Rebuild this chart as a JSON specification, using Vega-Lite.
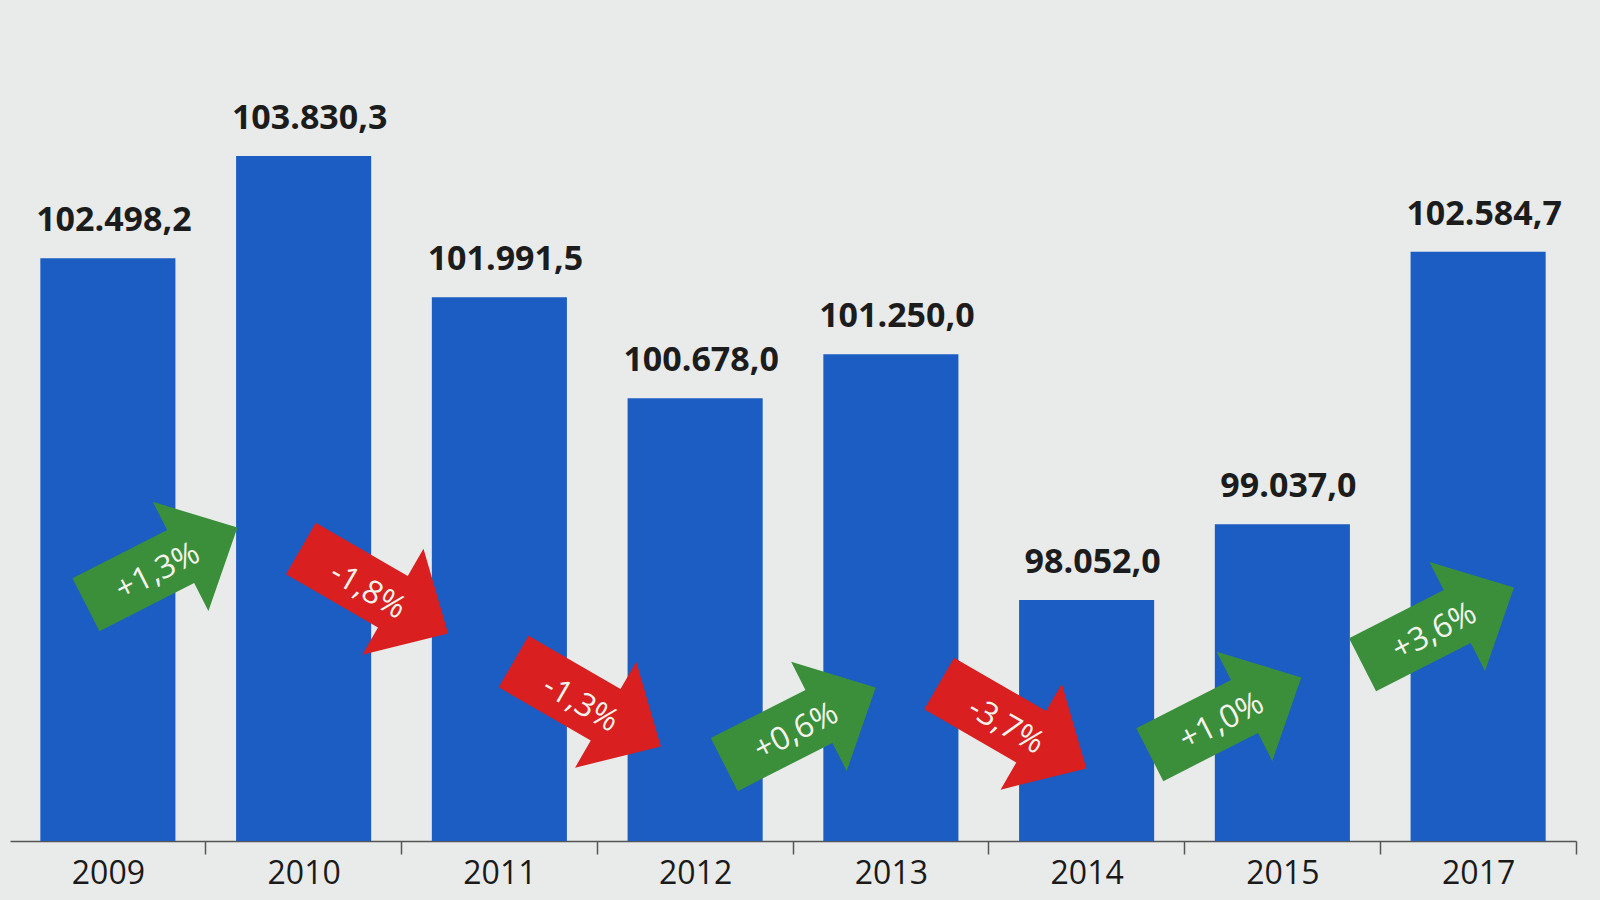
{
  "$schema": "https://vega.github.io/schema/vega-lite/v6.json",
  "width": 1600,
  "height": 841,
  "autosize": "none",
  "padding": {"top": 0, "left": 0, "right": 0, "bottom": 59},
  "background": "#e9ebea",
  "config": {"view": {"stroke": null}},
  "layer": [
    {
      "data": {"values": [
        {"year": "2009", "value": 102498.2, "label": "102.498,2"},
        {"year": "2010", "value": 103830.3, "label": "103.830,3"},
        {"year": "2011", "value": 101991.5, "label": "101.991,5"},
        {"year": "2012", "value": 100678.0, "label": "100.678,0"},
        {"year": "2013", "value": 101250.0, "label": "101.250,0"},
        {"year": "2014", "value": 98052.0, "label": "98.052,0"},
        {"year": "2015", "value": 99037.0, "label": "99.037,0"},
        {"year": "2017", "value": 102584.7, "label": "102.584,7"}
      ]},
      "encoding": {
        "x": {
          "field": "year", "type": "ordinal", "sort": null,
          "scale": {"type": "band", "range": [10, 1576], "paddingInner": 0.31, "paddingOuter": 0.155},
          "axis": {
            "title": null, "bandPosition": 1, "tickExtra": false, "tickOffset": 30, "labelOffset": -30,
            "domainColor": "#555555", "domainWidth": 1.5,
            "tickColor": "#555555", "tickWidth": 1.5, "tickSize": 13, "labelAngle": 0,
            "labelFont": "Open Sans", "labelFontSize": 32, "labelColor": "#1a1a1a", "labelPadding": 4
          }
        },
        "y": {
          "field": "value", "type": "quantitative",
          "scale": {"domain": [94916, 105860], "nice": false, "zero": false},
          "axis": null
        }
      },
      "layer": [
        {"mark": {"type": "bar", "color": "#1b5dc2", "clip": true}},
        {"mark": {"type": "text", "font": "Open Sans", "fontWeight": "bold", "fontSize": 34, "color": "#1c1c1c", "baseline": "alphabetic", "dy": -27, "dx": 6},
         "encoding": {"text": {"field": "label"}}}
      ]
    },
    {
      "data": {"values": [
        {"pair": "2009-2010", "change": "+1,3%", "dir": "up", "at": 98494},
        {"pair": "2010-2011", "change": "-1,8%", "dir": "down", "at": 98169},
        {"pair": "2011-2012", "change": "-1,3%", "dir": "down", "at": 96698},
        {"pair": "2012-2013", "change": "+0,6%", "dir": "up", "at": 96412},
        {"pair": "2013-2014", "change": "-3,7%", "dir": "down", "at": 96412},
        {"pair": "2014-2015", "change": "+1,0%", "dir": "up", "at": 96542},
        {"pair": "2015-2017", "change": "+3,6%", "dir": "up", "at": 97713}
      ]},
      "encoding": {
        "x": {"field": "pair", "type": "ordinal", "sort": null, "scale": {"type": "point", "padding": 0.76}, "axis": null},
        "y": {"field": "at", "type": "quantitative"},
        "angle": {"condition": {"test": "datum.dir === 'up'", "value": 333}, "value": 30}
      },
      "layer": [
        {
          "mark": {"type": "point", "filled": true, "opacity": 1, "strokeWidth": 0,
                   "shape": "M-1,-0.35L0.25,-0.35L0.25,-0.72L1,0L0.25,0.72L0.25,0.35L-1,0.35Z", "size": 28900},
          "encoding": {
            "color": {"field": "dir", "type": "nominal", "scale": {"domain": ["up", "down"], "range": ["#3b8f3b", "#d91f1f"]}, "legend": null}
          }
        },
        {
          "mark": {"type": "text", "font": "Open Sans", "fontSize": 32, "color": "#f4f4ec", "dx": -6, "dy": 3},
          "encoding": {"text": {"field": "change"}}
        }
      ]
    }
  ],
  "resolve": {"scale": {"x": "independent"}}
}
